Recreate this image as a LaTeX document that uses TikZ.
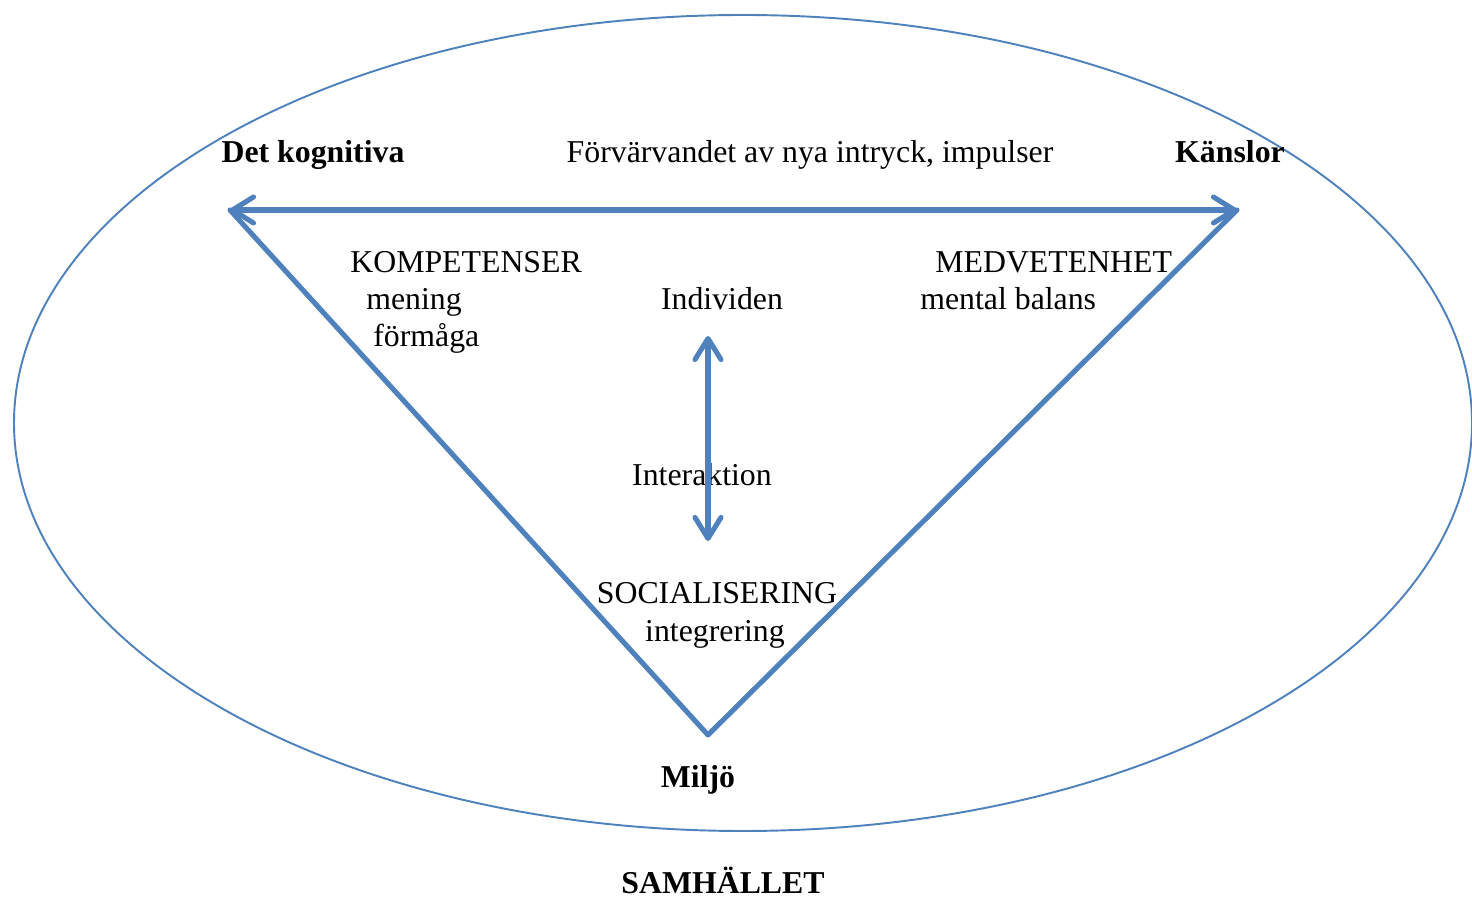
\documentclass[tikz,border=0pt]{standalone}
\usepackage{fontspec}
\setmainfont{Liberation Serif}
\usetikzlibrary{arrows.meta}
\definecolor{lineblue}{HTML}{4F81BD}
\tikzset{
  px/.style={x=0.02cm,y=-0.02cm},
  lbl/.style={font=\fontsize{18.1}{22}\selectfont, inner sep=0pt, anchor=base},
  lbll/.style={lbl, anchor=base west},
  bold/.style={font=\fontsize{18.1}{22}\selectfont\bfseries},
  side/.style={draw=lineblue, line width=2.9pt, line cap=round, line join=round},
  dbl/.style={side, {Straight Barb[length=4.2mm,width=5.2mm,round]}-{Straight Barb[length=4.2mm,width=5.2mm,round]}},
  oval/.style={draw=lineblue, line width=1.1pt}
}
\begin{document}
\begin{tikzpicture}[px]
\useasboundingbox (0,0) rectangle (1472,901);
\draw[oval] (743,423) ellipse [x radius=729, y radius=408];
\coordinate (L) at (230,210);
\coordinate (R) at (1237,210);
\coordinate (B) at (708,735);
\coordinate (I1) at (708,336);
\coordinate (I2) at (708,541);
\node[lbl, bold] (kog) at (313,163) {Det kognitiva};
\node[lbl] (forv) at (810,163) {Förvärvandet av nya intryck, impulser};
\node[lbl, bold] (kans) at (1230,163) {Känslor};
\node[lbll] (komp) at (350,273) {KOMPETENSER};
\node[lbll] (men) at (366,310) {mening};
\node[lbll] (form) at (373,347) {förmåga};
\node[lbl] (ind) at (722,310) {Individen};
\node[lbll] (medv) at (935,273) {MEDVETENHET};
\node[lbll] (ment) at (920,310) {mental balans};
\node[lbl] (inter) at (702,486) {Interaktion};
\node[lbl] (soc) at (717,604) {SOCIALISERING};
\node[lbl] (integ) at (715,642) {integrering};
\node[lbl, bold] (milj) at (698,788) {Miljö};
\node[lbl, bold] (samh) at (723,894) {SAMHÄLLET};
\draw[side] (L) -- (B) -- (R);
\draw[dbl] (L) -- (R);
\draw[dbl] (I1) -- (I2);
\end{tikzpicture}
\end{document}
